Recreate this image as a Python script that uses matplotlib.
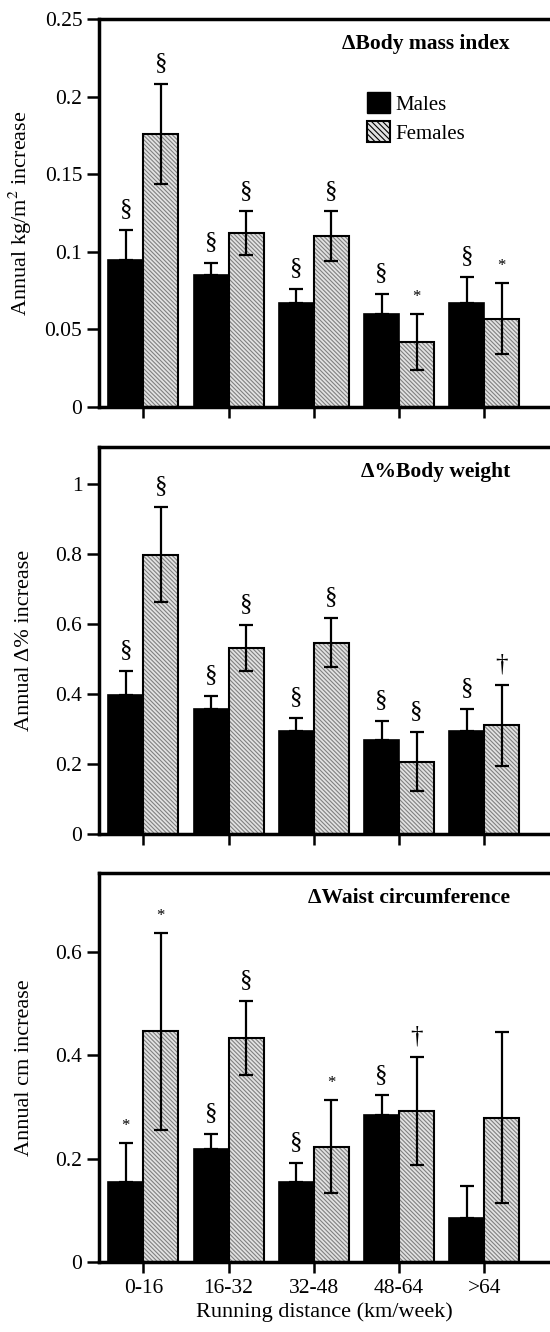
import numpy as np
import matplotlib
matplotlib.use('Agg')
from matplotlib import pyplot as plt
from matplotlib.patches import Patch

plt.rcParams['font.family'] = ['Liberation Serif', 'DejaVu Serif']
plt.rcParams['mathtext.fontset'] = 'stix'
plt.rcParams['hatch.linewidth'] = 0.8

groups = ['0-16', '16-32', '32-48', '48-64', '>64']

# panel 1: body mass index
bmi_m = [0.095, 0.085, 0.067, 0.060, 0.067]
bmi_m_err = [0.019, 0.008, 0.009, 0.013, 0.017]
bmi_f = [0.176, 0.112, 0.110, 0.042, 0.057]
bmi_f_err = [0.032, 0.014, 0.016, 0.018, 0.023]
bmi_m_sig = ['§', '§', '§', '§', '§']
bmi_f_sig = ['§', '§', '§', '*', '*']

# panel 2: % body weight
bw_m = [0.397, 0.358, 0.293, 0.267, 0.293]
bw_m_err = [0.069, 0.037, 0.039, 0.056, 0.065]
bw_f = [0.798, 0.532, 0.546, 0.207, 0.310]
bw_f_err = [0.135, 0.066, 0.070, 0.085, 0.115]
bw_m_sig = ['§', '§', '§', '§', '§']
bw_f_sig = ['§', '§', '§', '§', '†']

# panel 3: waist
w_m = [0.155, 0.218, 0.155, 0.284, 0.085]
w_m_err = [0.075, 0.029, 0.036, 0.038, 0.061]
w_f = [0.446, 0.433, 0.223, 0.292, 0.279]
w_f_err = [0.190, 0.072, 0.090, 0.104, 0.165]
w_m_sig = ['*', '§', '§', '§', '']
w_f_sig = ['*', '§', '*', '†', '']

panels = [
    (bmi_m, bmi_m_err, bmi_f, bmi_f_err, bmi_m_sig, bmi_f_sig,
     'Annual kg/m$^2$ increase', '\u0394Body mass index', 0.25, [0, 0.05, 0.1, 0.15, 0.2, 0.25],
     ['0', '0.05', '0.1', '0.15', '0.2', '0.25']),
    (bw_m, bw_m_err, bw_f, bw_f_err, bw_m_sig, bw_f_sig,
     'Annual \u0394% increase', '\u0394%Body weight', 1.105, [0, 0.2, 0.4, 0.6, 0.8, 1],
     ['0', '0.2', '0.4', '0.6', '0.8', '1']),
    (w_m, w_m_err, w_f, w_f_err, w_m_sig, w_f_sig,
     'Annual cm increase', '\u0394Waist circumference', 0.752, [0, 0.2, 0.4, 0.6],
     ['0', '0.2', '0.4', '0.6']),
]

# axes boxes in pixels (top, bottom)
boxes = [(19, 407), (447, 834), (873, 1262)]
H = 1332.0
fhatch = '\\' * 8
ffill = '#e2e2e2'

fig = plt.figure(figsize=(5.5, 13.32), dpi=100)
x = np.arange(len(groups))
w = 0.41

for i, (m, me, f, fe, ms, fs, ylab, title, ytop, yt, ytl) in enumerate(panels):
    top, bot = boxes[i]
    ax = fig.add_axes([0.18, 1 - bot / H, 0.82, (bot - top) / H])
    ax.bar(x - w / 2, m, w, color='black', edgecolor='black', linewidth=1.2, zorder=2)
    ax.errorbar(x - w / 2, m, yerr=[np.zeros(5), me], fmt='none', ecolor='black',
                elinewidth=1.6, capsize=5, capthick=1.6, zorder=3)
    ax.bar(x + w / 2, f, w, color=ffill, edgecolor='#808080', hatch=fhatch,
           linewidth=0, zorder=2)
    ax.bar(x + w / 2, f, w, fill=False, edgecolor='black', linewidth=1.5, zorder=3)
    ax.errorbar(x + w / 2, f, yerr=fe, fmt='none', ecolor='black',
                elinewidth=1.6, capsize=5, capthick=1.6, zorder=4)
    for j in range(5):
        for sym, xx, yy in [(ms[j], x[j] - w / 2, m[j] + me[j]),
                            (fs[j], x[j] + w / 2, f[j] + fe[j])]:
            if not sym:
                continue
            if sym == '*':
                ax.annotate(sym, (xx, yy), xytext=(0, 12), textcoords='offset points',
                            ha='center', va='center', fontsize=12)
            else:
                ax.annotate(sym, (xx, yy), xytext=(0, 15), textcoords='offset points',
                            ha='center', va='center', fontsize=18)
    ax.set_xlim(-0.52, 4.77)
    ax.set_ylim(0, ytop)
    ax.set_yticks(yt)
    ax.set_yticklabels(ytl)
    ax.set_xticks(x)
    if i == 2:
        ax.set_xticklabels(groups)
        ax.set_xlabel('Running distance (km/week)', fontsize=16, labelpad=3)
    else:
        ax.set_xticklabels([])
    ax.tick_params(axis='y', direction='out', length=9, width=1.8, labelsize=15.5, pad=3)
    ax.tick_params(axis='x', direction='out', length=8, width=1.8, labelsize=15.5, pad=4)
    ax.set_ylabel(ylab, fontsize=16)
    ax.yaxis.set_label_coords(-0.145, 0.5)
    for s in ['left', 'bottom', 'top']:
        ax.spines[s].set_linewidth(2.5)
    ax.spines['right'].set_visible(False)
    ax.text(0.911, 0.962, title, transform=ax.transAxes, ha='right', va='top',
            fontsize=15.5, fontweight='bold')
    if i == 0:
        handles = [Patch(facecolor='black', edgecolor='black', label='Males'),
                   Patch(facecolor=ffill, edgecolor='black', hatch='\\' * 6,
                         linewidth=1.5, label='Females')]
        ax.legend(handles=handles, loc='upper left', bbox_to_anchor=(0.594, 0.812),
                  frameon=False, fontsize=15, handlelength=1.1, handleheight=1.2,
                  handletextpad=0.25, labelspacing=0.3, borderaxespad=0, borderpad=0)

fig.savefig('out.png', dpi=100)
